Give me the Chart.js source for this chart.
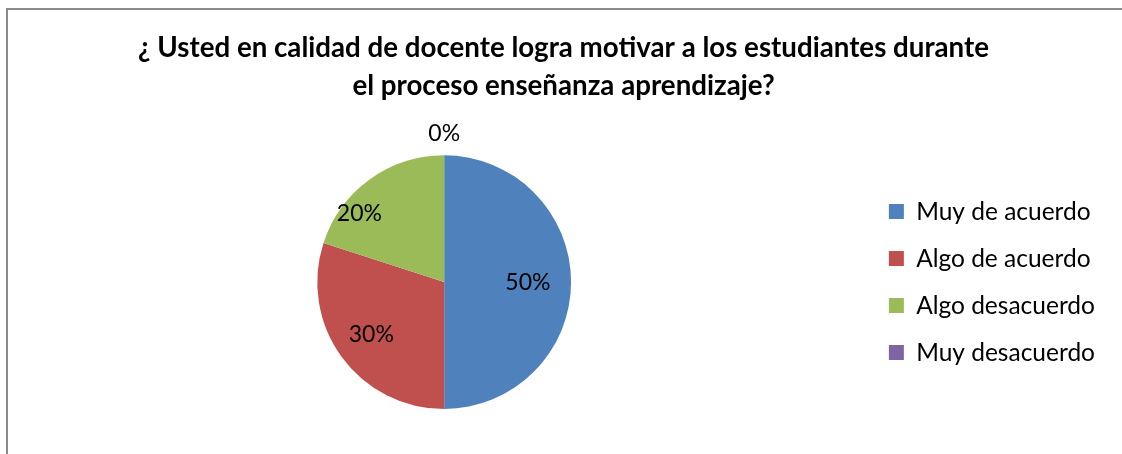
<!DOCTYPE html>
<html lang="es">
<head>
  <meta charset="UTF-8">
  <title>Motivación de los estudiantes</title>
  <script src="https://cdn.jsdelivr.net/npm/chart.js"></script>
  <style>
    html, body { margin: 0; padding: 0; background: #fff; }
    .frame {
      position: absolute;
      left: 6px;
      top: 8px;
      width: 1140px;
      height: 470px;
      border: 2px solid #8a8a8a;
    }
    .chart-box {
      position: absolute;
      left: 0;
      top: 0;
      width: 1122px;
      height: 454px;
    }
  </style>
</head>
<body>
<div class="frame"></div>
<div class="chart-box">
  <canvas id="myChart" width="1122" height="454"></canvas>
</div>
<script>
  const categories = ['Muy de acuerdo', 'Algo de acuerdo', 'Algo desacuerdo', 'Muy desacuerdo'];
  const values = [50, 30, 20, 0];
  const colors = ['#4F81BD', '#C0504D', '#9BBB59', '#8064A2'];
  const titleLines = ['¿ Usted en calidad de docente logra motivar a los estudiantes durante', 'el proceso enseñanza aprendizaje?'];

  const FONT = 'Lato, "Liberation Sans", sans-serif';

  // etiquetas de porcentaje sobre cada sector
  const pctLabels = {
    id: 'pctLabels',
    afterDatasetsDraw(chart, args, opts) {
      const c = chart.ctx;
      const meta = chart.getDatasetMeta(0);
      const total = values.reduce((a, b) => a + b, 0);
      c.save();
      c.font = opts.size + 'px ' + FONT;
      c.fillStyle = '#000';
      c.textAlign = 'center';
      c.textBaseline = 'middle';
      meta.data.forEach((arc, i) => {
        const p = arc.getProps(['x', 'y', 'startAngle', 'endAngle', 'outerRadius'], true);
        const mid = (p.startAngle + p.endAngle) / 2 + (opts.shift[i] || 0) * Math.PI / 180;
        const r = values[i] === 0 ? p.outerRadius + opts.outside : p.outerRadius * opts.fraction[i];
        const x = p.x + Math.cos(mid) * r;
        const y = p.y + Math.sin(mid) * r;
        c.fillText(Math.round(values[i] / total * 100) + '%', x, y);
      });
      c.restore();
    }
  };

  const ctx = document.getElementById('myChart').getContext('2d');
  const myChart = new Chart(ctx, {
    type: 'pie',
    data: {
      labels: categories,
      datasets: [{
        data: values,
        backgroundColor: colors,
        borderWidth: 0
      }]
    },
    options: {
      responsive: false,
      animation: false,
      layout: { padding: { left: 22, right: 17, top: 0, bottom: 45 } },
      plugins: {
        tooltip: { enabled: false },
        title: {
          display: true,
          text: titleLines,
          color: '#000',
          font: { family: FONT, size: 27.7, weight: 'bold', lineHeight: 1.34 },
          padding: { top: 30, bottom: 51 }
        },
        legend: {
          position: 'right',
          fullSize: false,
          labels: {
            color: '#000',
            boxWidth: 15,
            boxHeight: 15,
            padding: 22.5,
            font: { family: FONT, size: 24.5 }
          }
        },
        pctLabels: {
          size: 23,
          fraction: [0.66, 0.71, 0.86, 1],
          shift: [0, 0, -15, 0],
          outside: 22
        }
      }
    },
    plugins: [pctLabels]
  });
</script>
</body>
</html>
